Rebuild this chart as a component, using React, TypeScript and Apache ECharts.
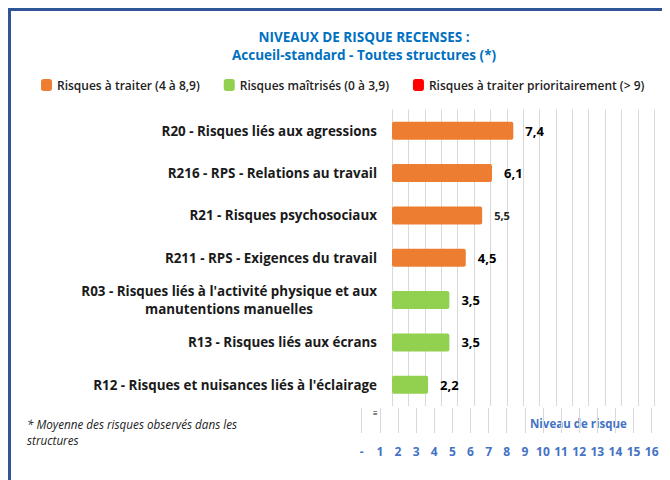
import React, { useEffect, useRef } from "react";
import * as echarts from "echarts";

const categories = [
  "R20 - Risques liés aux agressions",
  "R216 - RPS - Relations au travail",
  "R21 - Risques psychosociaux",
  "R211 - RPS - Exigences du travail",
  "R03 - Risques liés à l'activité physique et aux\nmanutentions manuelles",
  "R13 - Risques liés aux écrans",
  "R12 - Risques et nuisances liés à l'éclairage",
];
const values = [7.4, 6.1, 5.5, 4.5, 3.5, 3.5, 2.2];
const seriesNames = [
  "Risques à traiter (4 à 8,9)",
  "Risques maîtrisés (0 à 3,9)",
  "Risques à traiter prioritairement (> 9)",
];
const bottomTickLabels = ["-", "1", "2", "3", "4", "5", "6", "7", "8", "9", "10", "11", "12", "13", "14", "15", "16"];
const titleLines = ["NIVEAUX DE RISQUE RECENSES :", "Accueil-standard - Toutes structures (*)"];
const footnote = "* Moyenne des risques observés dans les\nstructures";
const axisName = "Niveau de risque";

const FONT = "'Open Sans', 'Liberation Sans', sans-serif";

function measure(text: string, font: string): number {
  const c = document.createElement("canvas");
  const ctx = c.getContext("2d");
  if (!ctx) return 300;
  ctx.font = font;
  return ctx.measureText(text).width;
}

export default function App() {
  const ref = useRef<HTMLDivElement>(null);
  useEffect(() => {
    if (!ref.current) return;
    const chart = echarts.init(ref.current, undefined, { renderer: "svg" });

    const orange = values.map((v) => (v >= 4 && v < 9 ? v : "-"));
    const green = values.map((v) => (v < 4 ? v : "-"));
    const red = values.map((v) => (v >= 9 ? v : "-"));
    const colors = ["#ED7D31", "#92D050", "#FF0000"];
    const dataSets = [orange, green, red];

    const LBL = 13.4;
    const labelFont = `bold ${LBL}px ${FONT}`;
    const firstLineWidth = Math.ceil(measure(categories[4].split("\n")[0], labelFont));

    const series = dataSets.map((d, i) => ({
      type: "bar",
      name: seriesNames[i],
      stack: "risk",
      xAxisIndex: 0,
      yAxisIndex: 0,
      barWidth: 18,
      data: d,
      itemStyle: { color: colors[i], borderRadius: 2 },
      label: {
        show: true,
        position: "right",
        distance: 12,
        formatter: (p: any) => {
          const s = String(p.value).replace(".", ",");
          return p.dataIndex === 2 ? `{s|${s}}` : `{b|${s}}`;
        },
        rich: {
          b: { fontSize: 13, fontWeight: "bold", color: "#000", fontFamily: FONT },
          s: { fontSize: 11, fontWeight: "bold", color: "#222", fontFamily: FONT },
        },
      },
    }));

    chart.setOption({
      animation: false,
      textStyle: { fontFamily: FONT },
      title: {
        text: titleLines.join("\n"),
        left: 348,
        top: 12,
        textAlign: "center",
        textStyle: { color: "#0070C0", fontSize: 13.5, fontWeight: "bold", lineHeight: 18, fontFamily: FONT },
      },
      legend: {
        data: seriesNames,
        left: 25,
        top: 63,
        itemWidth: 11,
        itemHeight: 12,
        itemGap: 24,
        icon: "roundRect",
        textStyle: { fontSize: 12, fontWeight: 600, color: "#222", fontFamily: FONT },
      },
      grid: [
        { left: 381, top: 98.5, right: 15.7, bottom: 74, containLabel: false },
        { left: 350.7, top: 397, right: 18.3, bottom: 47, containLabel: false },
      ],
      xAxis: [
        {
          type: "value",
          gridIndex: 0,
          min: 0,
          max: 16,
          interval: 1,
          axisLabel: { show: false },
          axisLine: { show: false },
          axisTick: { show: false },
          splitLine: { show: true, lineStyle: { color: "#D9D9D9", width: 1 } },
        },
        {
          type: "value",
          gridIndex: 1,
          min: 0,
          max: 16,
          interval: 1,
          axisLabel: {
            show: true,
            margin: 12,
            color: "#4472C4",
            fontSize: 12,
            fontWeight: "bold",
            fontFamily: FONT,
            formatter: (v: number) => bottomTickLabels[Math.round(v)] ?? "",
          },
          axisLine: { show: false },
          axisTick: { show: false },
          splitLine: { show: true, lineStyle: { color: "#D9D9D9", width: 1 } },
        },
      ],
      yAxis: [
        {
          type: "category",
          gridIndex: 0,
          data: categories,
          inverse: true,
          axisLine: { show: false },
          axisTick: { show: false },
          axisLabel: {
            margin: 15,
            color: "#1a1a1a",
            fontSize: LBL,
            fontWeight: "bold",
            fontFamily: FONT,
            lineHeight: 18,
            formatter: (v: string) => {
              const lines = v.split("\n");
              if (lines.length === 1) return `{a|${v}}`;
              return `{a|${lines[0]}}\n{c|${lines[1]}}`;
            },
            rich: {
              a: { fontSize: LBL, fontWeight: "bold", color: "#1a1a1a", fontFamily: FONT, lineHeight: 18 },
              c: {
                fontSize: LBL,
                fontWeight: "bold",
                color: "#1a1a1a",
                fontFamily: FONT,
                lineHeight: 18,
                width: firstLineWidth,
                align: "center",
              },
            },
          },
          splitLine: { show: false },
        },
        {
          type: "value",
          gridIndex: 1,
          min: 0,
          max: 1,
          show: false,
        },
      ],
      graphic: [
        {
          type: "text",
          left: 16,
          top: 405,
          style: {
            text: footnote,
            fontSize: 11.7,
            fontStyle: "italic",
            fill: "#222",
            fontFamily: FONT,
            lineHeight: 16,
          },
        },
        {
          type: "text",
          left: 519,
          top: 406,
          style: {
            text: axisName,
            fontSize: 11.5,
            fontWeight: "bold",
            fill: "#4472C4",
            fontFamily: FONT,
          },
        },
        {
          type: "text",
          left: 362,
          top: 397,
          style: { text: "≡", fontSize: 8, fill: "#111", fontFamily: FONT },
        },
      ],
      series,
    });
    return () => chart.dispose();
  }, []);

  return (
    <div
      style={{
        width: 662,
        height: 472,
        boxSizing: "border-box",
        borderTop: "3px solid #2F5597",
        borderLeft: "3px solid #2F5597",
        background: "#fff",
      }}
    >
      <div ref={ref} style={{ width: 659, height: 469 }} />
    </div>
  );
}
